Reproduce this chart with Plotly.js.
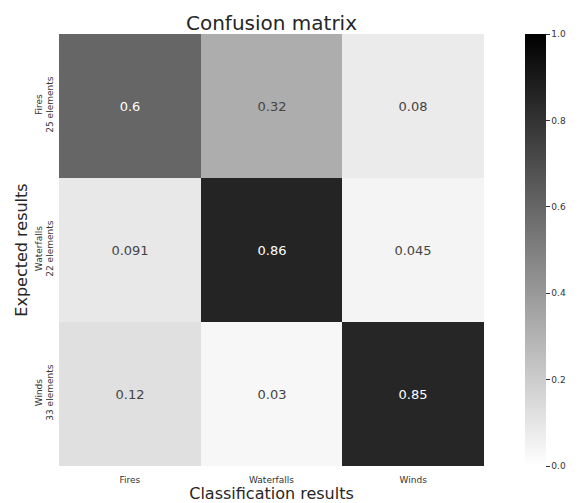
<!DOCTYPE html>
<html><head><meta charset="utf-8">
<script src="https://cdn.plot.ly/plotly-3.0.1.min.js"></script>
<style>html,body{margin:0;padding:0;background:#fff;}</style>
</head><body><div id="chart" style="width:579px;height:503px;"></div>
<script>
const classes = ["Fires", "Waterfalls", "Winds"];
const rowLabels = ["Fires<br>25 elements", "Waterfalls<br>22 elements", "Winds<br>33 elements"];
const rowFires = [0.6, 0.32, 0.08];
const rowWaterfalls = [0.091, 0.86, 0.045];
const rowWinds = [0.12, 0.03, 0.85];
const z = [rowFires, rowWaterfalls, rowWinds];
const txt = z.map(r => r.map(v => String(v)));

const font = "DejaVu Sans, sans-serif";
const trace = {
  type: "heatmap",
  z: z, x: classes, y: rowLabels,
  text: txt, texttemplate: "%{text}",
  textfont: {family: font, size: 13},
  colorscale: [[0, "rgb(255,255,255)"], [1, "rgb(0,0,0)"]],
  zmin: 0, zmax: 1,
  hoverinfo: "skip",
  colorbar: {
    x: 1.097, xanchor: "left", xref: "paper",
    y: 0.5, yanchor: "middle", len: 1, lenmode: "fraction",
    thickness: 21, thicknessmode: "pixels",
    outlinewidth: 0, ypad: 0, xpad: 0,
    tickvals: [0, 0.2, 0.4, 0.6, 0.8, 1.0],
    ticktext: ["0.0", "0.2", "0.4", "0.6", "0.8", "1.0"],
    ticks: "outside", ticklen: 4, tickcolor: "#333", tickwidth: 1,
    tickfont: {family: font, size: 9, color: "#333"}
  }
};
const layout = {
  width: 579, height: 503,
  margin: {l: 59, r: 88, t: 34, b: 37},
  paper_bgcolor: "#fff", plot_bgcolor: "#fff",
  title: {text: "Confusion matrix", font: {family: font, size: 20, color: "#262626"}, x: 0.5, xref: "paper", xanchor: "center", y: 1, yref: "paper", yanchor: "bottom", pad: {b: 4}},
  xaxis: {
    title: {text: "Classification results", font: {family: font, size: 16, color: "#262626"}, standoff: 4},
    tickfont: {family: font, size: 9, color: "#333"},
    ticklabelstandoff: 7,
    showgrid: false, zeroline: false, ticks: "", ticklen: 0, automargin: false
  },
  yaxis: {
    title: {text: "Expected results", font: {family: font, size: 16, color: "#262626"}, standoff: 1},
    tickfont: {family: font, size: 9, color: "#333"},
    ticklabelstandoff: 3,
    autorange: "reversed", tickangle: -90,
    showgrid: false, zeroline: false, ticks: "", automargin: false
  }
};
Plotly.newPlot("chart", [trace], layout, {displayModeBar: false, staticPlot: true});
</script></body></html>
